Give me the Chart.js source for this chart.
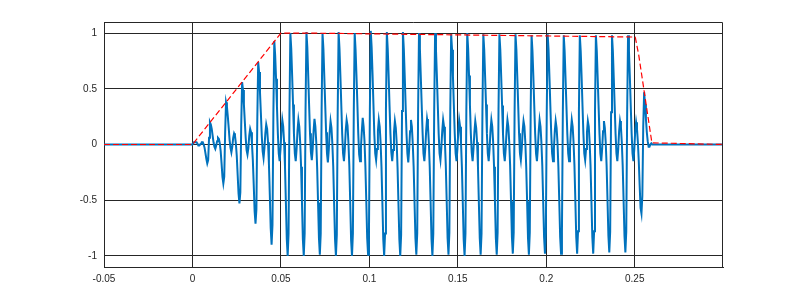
<!DOCTYPE html>
<html>
<head>
<meta charset="utf-8">
<script src="https://cdn.jsdelivr.net/npm/chart.js@4"></script>
<style>
  html, body { margin: 0; padding: 0; background: #fff; }
  #wrap { width: 800px; height: 300px; }
</style>
</head>
<body>
<div id="wrap"><canvas id="wave"></canvas></div>
<script>
// axis ticks
const xTicks = [-0.05, 0, 0.05, 0.1, 0.15, 0.2, 0.25];
const yTicks = [-1, -0.5, 0, 0.5, 1];

// silent part of the signal (before onset / after release)
const silentT = [-0.05, 0, 0.3];

// sampled signal: first sample time and sample step (seconds)
const sigT0 = 0.0008;
const sigDt = 0.000505;
const sigY = [
  0.02, 0.02, 0.02, 0.02, 0.01, -0.01, -0.01, 0, 0.01, 0.02, 0.02, 0, -0.03, -0.08, -0.13, -0.17, -0.14, 0.06,
  0.20, 0.18, 0.14, 0.08, 0.02, -0.02, -0.04, -0.01, 0.03, 0.06, 0.05, 0.01, -0.06, -0.17, -0.29, -0.35, -0.29, 0.11,
  0.38, 0.34, 0.25, 0.15, 0.04, -0.03, -0.07, -0.02, 0.06, 0.10, 0.08, 0.01, -0.10, -0.27, -0.44, -0.53, -0.43, 0.17,
  0.56, 0.49, 0.36, 0.21, 0.06, -0.05, -0.09, -0.03, 0.08, 0.14, 0.11, 0.01, -0.14, -0.36, -0.60, -0.71, -0.58, 0.22,
  0.74, 0.65, 0.47, 0.28, 0.08, -0.06, -0.12, -0.03, 0.10, 0.18, 0.14, 0.02, -0.17, -0.45, -0.75, -0.90, -0.72, 0.27,
  0.93, 0.80, 0.59, 0.34, 0.10, -0.08, -0.15, -0.04, 0.12, 0.22, 0.16, 0.02, -0.20, -0.52, -0.85, -1.00, -0.80, 0.30,
  1.00, 0.86, 0.62, 0.36, 0.10, -0.08, -0.15, -0.04, 0.12, 0.22, 0.16, 0.02, -0.20, -0.52, -0.85, -1.00, -0.80, 0.30,
  1.01, 0.87, 0.62, 0.35, 0.10, -0.07, -0.14, -0.04, 0.12, 0.23, 0.16, 0.02, -0.21, -0.52, -0.84, -0.99, -0.80, 0.31,
  1.00, 0.86, 0.61, 0.36, 0.11, -0.08, -0.16, -0.05, 0.11, 0.21, 0.15, 0.01, -0.20, -0.53, -0.85, -1.00, -0.81, 0.30,
  1.01, 0.86, 0.62, 0.36, 0.10, -0.08, -0.15, -0.04, 0.13, 0.22, 0.17, 0.02, -0.19, -0.52, -0.86, -1.00, -0.80, 0.29,
  1.00, 0.85, 0.62, 0.37, 0.10, -0.09, -0.15, -0.03, 0.12, 0.24, 0.16, 0.03, -0.20, -0.51, -0.84, -0.99, -0.79, 0.30,
  1.02, 0.87, 0.63, 0.36, 0.09, -0.08, -0.14, -0.04, 0.12, 0.22, 0.16, 0.02, -0.20, -0.52, -0.85, -1.00, -0.80, 0.31,
  1.01, 0.86, 0.62, 0.35, 0.10, -0.07, -0.15, -0.05, 0.11, 0.21, 0.15, 0.02, -0.21, -0.53, -0.85, -1.00, -0.81, 0.30,
  1.01, 0.86, 0.62, 0.36, 0.10, -0.08, -0.16, -0.04, 0.12, 0.22, 0.16, 0.01, -0.20, -0.52, -0.84, -0.99, -0.80, 0.30,
  1.00, 0.86, 0.61, 0.36, 0.11, -0.08, -0.15, -0.04, 0.12, 0.23, 0.17, 0.02, -0.20, -0.52, -0.85, -1.00, -0.80, 0.29,
  1.00, 0.85, 0.62, 0.36, 0.10, -0.08, -0.14, -0.03, 0.12, 0.22, 0.16, 0.02, -0.19, -0.51, -0.84, -0.99, -0.79, 0.30,
  0.99, 0.85, 0.61, 0.35, 0.10, -0.08, -0.15, -0.04, 0.12, 0.22, 0.16, 0.02, -0.20, -0.52, -0.85, -1.00, -0.80, 0.30,
  1.00, 0.86, 0.62, 0.36, 0.10, -0.07, -0.15, -0.04, 0.11, 0.21, 0.15, 0.02, -0.20, -0.52, -0.84, -0.99, -0.80, 0.29,
  0.99, 0.85, 0.61, 0.36, 0.10, -0.08, -0.15, -0.04, 0.12, 0.22, 0.16, 0.02, -0.20, -0.51, -0.84, -0.99, -0.79, 0.30,
  0.99, 0.85, 0.61, 0.35, 0.10, -0.08, -0.15, -0.04, 0.12, 0.22, 0.16, 0.02, -0.19, -0.51, -0.83, -0.98, -0.79, 0.29,
  0.99, 0.85, 0.61, 0.36, 0.10, -0.08, -0.14, -0.04, 0.12, 0.21, 0.16, 0.02, -0.20, -0.51, -0.84, -0.99, -0.79, 0.29,
  0.98, 0.84, 0.61, 0.35, 0.10, -0.08, -0.15, -0.04, 0.12, 0.22, 0.16, 0.02, -0.19, -0.51, -0.83, -0.98, -0.78, 0.29,
  0.99, 0.85, 0.61, 0.35, 0.10, -0.08, -0.15, -0.04, 0.12, 0.21, 0.15, 0.02, -0.20, -0.51, -0.83, -0.98, -0.79, 0.29,
  0.98, 0.84, 0.60, 0.35, 0.10, -0.08, -0.15, -0.04, 0.12, 0.22, 0.16, 0.02, -0.19, -0.50, -0.83, -0.98, -0.78, 0.29,
  0.98, 0.84, 0.61, 0.35, 0.10, -0.08, -0.14, -0.04, 0.11, 0.21, 0.16, 0.02, -0.19, -0.51, -0.83, -0.98, -0.78, 0.29,
  0.98, 0.84, 0.60, 0.35, 0.10, -0.08, -0.15, -0.04, 0.12, 0.21, 0.15, 0.02, -0.19, -0.50, -0.82, -0.97, -0.78, 0.29,
  0.98, 0.84, 0.60, 0.35, 0.10, -0.08, -0.15, -0.04, 0.12, 0.21, 0.16, 0.02, -0.19, -0.50, -0.82, -0.97, -0.78, 0.29,
  0.98, 0.84, 0.61, 0.35, 0.10, -0.08, -0.15, -0.04, 0.12, 0.20, 0.14, 0.02, -0.15, -0.37, -0.57, -0.62, -0.46, 0.16,
  0.47, 0.36, 0.23, 0.11, 0.03, -0.02, -0.02, 0, 0.01, 0, 0
];

// ADSR envelope (red dashed)
const envT = [-0.05, 0, 0.05, 0.0676, 0.2503, 0.2523, 0.2597, 0.3];
const envY = [0, 0, 1, 1, 0.965, 0.80, 0.015, 0];

const ink = "#262626";

// build point lists from the arrays above
const signalPts = [
  { x: silentT[0], y: 0 },
  { x: silentT[1], y: 0 },
  ...sigY.map((v, i) => ({ x: sigT0 + i * sigDt, y: v })),
  { x: silentT[2], y: 0 }
];
const envPts = envT.map((t, i) => ({ x: t, y: envY[i] }));

// top and right sides of the box (left/bottom come from the axes)
const boxPlugin = {
  id: "box",
  afterDatasetsDraw(chart) {
    const a = chart.chartArea;
    const c = chart.ctx;
    const top = Math.round(a.top) + 0.5;
    const right = Math.round(a.right) - 0.5;
    c.save();
    c.strokeStyle = ink;
    c.lineWidth = 1;
    c.beginPath();
    c.moveTo(a.left, top);
    c.lineTo(right, top);
    c.lineTo(right, a.bottom);
    c.stroke();
    c.restore();
  }
};

new Chart(document.getElementById("wave"), {
  type: "line",
  data: {
    datasets: [
      {
        label: "envelope",
        data: envPts,
        borderColor: "#ff0000",
        borderWidth: 1.2,
        borderDash: [6, 3],
        pointRadius: 0,
        tension: 0
      },
      {
        label: "signal",
        data: signalPts,
        borderColor: "#0072BD",
        borderWidth: 2,
        pointRadius: 0,
        tension: 0
      }
    ]
  },
  options: {
    responsive: true,
    maintainAspectRatio: false,
    animation: false,
    events: [],
    layout: { padding: { top: 22, right: 77, left: 0, bottom: 0 } },
    plugins: { legend: { display: false }, tooltip: { enabled: false } },
    scales: {
      x: {
        type: "linear",
        min: -0.05,
        max: 0.2999,
        afterBuildTicks: s => { s.ticks = xTicks.map(v => ({ value: v })); },
        afterFit: s => { s.height = 33; },
        grid: { color: ink, lineWidth: 1, drawTicks: false },
        border: { color: ink },
        ticks: {
          padding: 6,
          color: ink,
          font: { family: "'Liberation Sans', Arial, sans-serif", size: 10 },
          callback: v => String(v),
          maxRotation: 0
        }
      },
      y: {
        type: "linear",
        min: -1.1,
        max: 1.1,
        afterBuildTicks: s => { s.ticks = yTicks.map(v => ({ value: v })); },
        afterFit: s => { s.width = 104; },
        grid: { color: ink, lineWidth: 1, drawTicks: false },
        border: { color: ink },
        ticks: {
          padding: 7,
          color: ink,
          font: { family: "'Liberation Sans', Arial, sans-serif", size: 10 },
          callback: v => String(v)
        }
      }
    }
  },
  plugins: [boxPlugin]
});
</script>
</body>
</html>
